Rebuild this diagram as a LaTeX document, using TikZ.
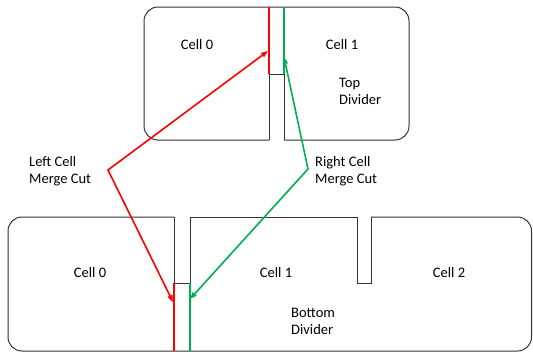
\documentclass[tikz,border=0pt]{standalone}
\usepackage{fontspec}
\setmainfont{Carlito}
\usetikzlibrary{arrows.meta}
\definecolor{cutred}{RGB}{255,0,0}
\definecolor{cutgreen}{RGB}{0,176,80}
\tikzset{
  wall/.style={draw=black!80, line width=1pt, line join=miter},
  outer/.style={wall, rounded corners=14pt},
  cutline/.style={line width=1.3pt},
  cutarrow/.style={line width=1.6pt, {Triangle[length=7pt,width=5pt]}-{Triangle[length=7pt,width=5pt]}},
  lbl/.style={inner sep=0pt, font=\fontsize{14.5}{17.5}\selectfont},
  lbll/.style={lbl, align=left, anchor=west}
}
\begin{document}
\begin{tikzpicture}[x=1pt,y=-1pt]
\useasboundingbox (0,0) rectangle (533,354);

% ---- top block: two cells separated by the top divider ----
\coordinate (tdl) at (269,140);
\coordinate (tdr) at (284,140);
\coordinate (tdtl) at (269,74);
\coordinate (tdtr) at (284,74);
\draw[outer] (tdl) -| (144,7) -| (409,140) -- (tdr);
\draw[wall] (tdl) -- (tdtl) -- (tdtr) -- (tdr);

% ---- bottom block: three cells, two dividers ----
\coordinate (bdl) at (174,217);
\coordinate (bdr) at (190,217);
\coordinate (bdbl) at (174,283);
\coordinate (bdbr) at (190,283);
\coordinate (b2l) at (357,217);
\coordinate (b2r) at (371,217);
\draw[outer] (bdl) -| (8,351) -| (531.5,217) -- (b2r);
\draw[wall] (b2r) -- (371,283) -- (357,283) -- (b2l) -- (bdr);
\draw[wall] (bdl) -- (bdbl) -- (bdbr) -- (bdr);

% ---- merge cut lines ----
\coordinate (trtop) at (269,7);
\coordinate (tgtop) at (284,7);
\coordinate (brbot) at (174,351);
\coordinate (bgbot) at (190,351);
\draw[cutline, cutred] (trtop) -- (tdtl);
\draw[cutline, cutgreen] (tgtop) -- (tdtr);
\draw[cutline, cutred] (bdbl) -- (brbot);
\draw[cutline, cutgreen] (bdbr) -- (bgbot);

% ---- connectors between the matching cuts ----
\coordinate (redtip1) at (173,302);
\coordinate (redbend) at (108,170);
\coordinate (redtip2) at (268,51);
\coordinate (greentip1) at (190,299);
\coordinate (greenbend) at (308,169);
\coordinate (greentip2) at (284,57);
\draw[cutarrow, cutred] (redtip1) -- (redbend) -- (redtip2);
\draw[cutarrow, cutgreen] (greentip1) -- (greenbend) -- (greentip2);

% ---- labels ----
\node[lbl] (tc0) at (197,45) {Cell 0};
\node[lbl] (tc1) at (342,45) {Cell 1};
\node[lbll] (tdiv) at (339,91.5) {Top\\Divider};
\node[lbll] (lcut) at (29,171) {Left Cell\\Merge Cut};
\node[lbll] (rcut) at (315,171) {Right Cell\\Merge Cut};
\node[lbl] (bc0) at (90,273) {Cell 0};
\node[lbl] (bc1) at (276,273) {Cell 1};
\node[lbl] (bc2) at (449,273) {Cell 2};
\node[lbll] (bdiv) at (291,321.5) {Bottom\\Divider};
\end{tikzpicture}
\end{document}
